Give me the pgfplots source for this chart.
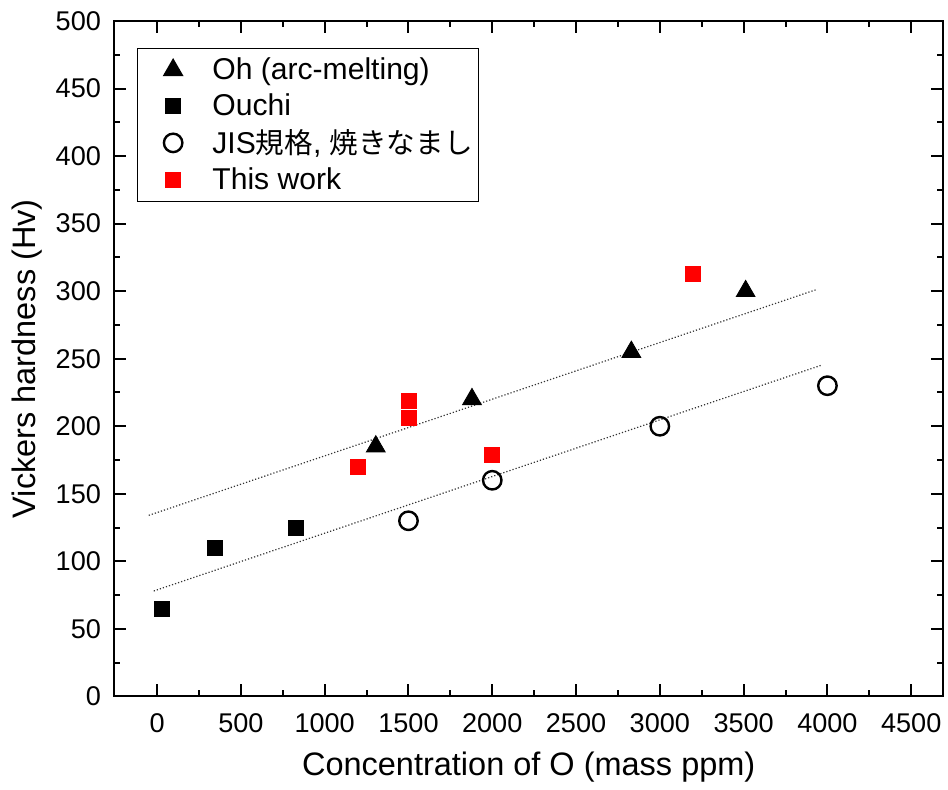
\documentclass[border=0pt]{standalone}
\usepackage{pgfplots}
\pgfplotsset{compat=1.18}
\usepackage{fontspec}
\setmainfont{Liberation Sans}
\newfontfamily\cjk[Scale=0.95]{Noto Sans CJK JP}

\begin{document}
\begin{tikzpicture}
  \begin{axis}[
    name=ax,
    width=413.5pt, height=336.7pt, scale only axis,
    xmin=-257, xmax=4692,
    ymin=0, ymax=500,
    xtick={0,500,...,4500},
    ytick={0,50,...,500},
    minor x tick num=1, minor y tick num=1,
    tick align=inside,
    major tick length=6pt, minor tick length=3pt,
    axis line style={line width=1pt},
    every tick/.style={line width=1pt, black},
    ticklabel style={font=\fontsize{13.5}{16}\selectfont},
    xticklabel style={yshift=-5pt},
    yticklabel style={xshift=-3pt},
    /pgf/number format/assume math mode=true,
    /pgf/number format/1000 sep={},
    xlabel={Concentration of O (mass ppm)},
    ylabel={Vickers hardness (Hv)},
    label style={font=\fontsize{16.2}{19}\selectfont},
    xlabel style={yshift=-3pt},
    legend cell align=left,
    legend image code/.code={\path (-16pt,0pt) (17pt,0pt); \draw[#1] plot coordinates {(0pt,0pt)};},
    legend style={at={(0.028,0.96)}, anchor=north west, draw=black, line width=0.6pt,
      font=\fontsize{15}{18}\selectfont, row sep=1.5pt, inner xsep=1pt, inner ysep=2.5pt},
  ]
    \addplot[only marks, mark=triangle*, mark size=5.4pt, black] coordinates {
      (1305,185) (1879,220) (2830,255) (3512,300)
    };
    \addlegendentry{Oh (arc-melting)}
    \addplot[only marks, mark=square*, mark size=3.75pt, black] coordinates {
      (30,65) (347,110) (826,125)
    };
    \addlegendentry{Ouchi}
    \addplot[only marks, mark=o, mark size=4.6pt, line width=1.2pt, black] coordinates {
      (1500,130) (2000,160) (3000,200) (4000,230)
    };
    \addlegendentry{JIS{\cjk 規格}, {\cjk 焼きなまし}}
    \addplot[only marks, mark=square*, mark size=3.75pt, red] coordinates {
      (1200,170) (1500,219) (1500,206) (2000,179) (3200,313)
    };
    \addlegendentry{This work}
    \addplot[densely dotted, line width=0.6pt, black!80, forget plot] coordinates {
      (-50,134) (3930,301)
    };
    \addplot[densely dotted, line width=0.6pt, black!80, forget plot] coordinates {
      (-20,78) (3960,245)
    };
  \end{axis}
  \path (ax.north west) ++(0,10.5pt);
  \path (ax.outer west) ++(-2.5pt,0);
\end{tikzpicture}
\end{document}
